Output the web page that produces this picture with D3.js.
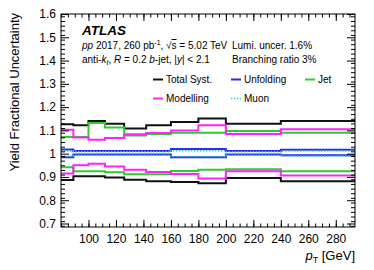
<!DOCTYPE html>
<html>
  <head>
    <meta charset="UTF-8">
    <title>Yield Fractional Uncertainty</title>
    <script src="https://d3js.org/d3.v7.min.js"></script>
    <style>
      body { margin: 0; background: #fff; }
      svg text { font-family: "Liberation Sans", Arial, sans-serif; fill: #000; }
    </style>
  </head>
  <body>
    <svg id="chart" width="374" height="270"></svg>
    <script>
      // bin edges in pT [GeV]
      const binEdges = [80, 89, 100, 112, 126, 142, 160, 180, 200, 240, 294];

      const totalUp = [1.126, 1.122, 1.140, 1.129, 1.108, 1.122, 1.136, 1.151, 1.129, 1.140];
      const totalDown = [0.887, 0.903, 0.903, 0.898, 0.888, 0.882, 0.878, 0.873, 0.896, 0.882];
      const unfoldUp = [1.018, 1.011, 1.011, 1.011, 1.011, 1.011, 1.020, 1.020, 1.011, 1.017];
      const unfoldDown = [0.985, 0.996, 0.996, 0.996, 0.996, 0.996, 0.985, 0.985, 0.996, 0.993];
      const jetUp = [1.072, 1.072, 1.132, 1.112, 1.078, 1.085, 1.090, 1.090, 1.097, 1.090];
      const jetDown = [0.942, 0.925, 0.925, 0.920, 0.912, 0.912, 0.926, 0.931, 0.933, 0.925];
      const modelUp = [1.103, 1.070, 1.060, 1.067, 1.083, 1.089, 1.100, 1.122, 1.085, 1.105];
      const modelDown = [0.915, 0.950, 0.957, 0.945, 0.931, 0.921, 0.913, 0.893, 0.924, 0.906];
      const muonUp = [1.012, 1.008, 1.008, 1.008, 1.008, 1.008, 1.013, 1.013, 1.008, 1.011];
      const muonDown = [0.989, 0.993, 0.993, 0.993, 0.993, 0.993, 0.988, 0.988, 0.993, 0.990];

      const yMajorTicks = [0.7, 0.8, 0.9, 1.0, 1.1, 1.2, 1.3, 1.4, 1.5, 1.6];
      const xMajorTicks = [100, 120, 140, 160, 180, 200, 220, 240, 260, 280];

      const series = [
        { name: "Total Syst.", color: "#111", up: totalUp, down: totalDown, dash: null },
        { name: "Unfolding", color: "#2b2bf0", up: unfoldUp, down: unfoldDown, dash: null },
        { name: "Jet", color: "#2ecc2e", up: jetUp, down: jetDown, dash: null },
        { name: "Modelling", color: "#ff22ff", up: modelUp, down: modelDown, dash: null },
        { name: "Muon", color: "#33cccc", up: muonUp, down: muonDown, dash: "1.5,1.5" }
      ];

      const frame = { left: 61, right: 355, top: 14, bottom: 227 };

      const svg = d3.select("#chart");

      const x = d3.scaleLinear()
        .domain([binEdges[0], binEdges[binEdges.length - 1]])
        .range([frame.left, frame.right]);

      const y = d3.scaleLinear()
        .domain([0.685, 1.6])
        .range([frame.bottom, frame.top]);

      // step histograms
      const line = d3.line()
        .x(d => x(d[0]))
        .y(d => y(d[1]))
        .curve(d3.curveStepAfter);

      function stepPoints(vals) {
        const pts = vals.map((v, i) => [binEdges[i], v]);
        pts.push([binEdges[binEdges.length - 1], vals[vals.length - 1]]);
        return pts;
      }

      series.forEach(s => {
        [s.up, s.down].forEach(vals => {
          svg.append("path")
            .attr("d", line(stepPoints(vals)))
            .attr("fill", "none")
            .attr("stroke", s.color)
            .attr("stroke-width", s.dash ? 1.5 : 2)
            .attr("stroke-dasharray", s.dash);
        });
      });

      // axes, ROOT style ticks inside the frame
      const fmtY = d => d === 1 ? "1" : d3.format(".1f")(d);
      const yMinor = d3.range(0, 47).map(i => 0.69 + i * 0.02).filter(v => v <= 1.601);
      const xMinor = d3.range(80, 295, 5);

      function addAxis(axis, tx, ty, cls) {
        const g = svg.append("g")
          .attr("class", cls)
          .attr("transform", `translate(${tx},${ty})`)
          .call(axis);
        g.select(".domain").remove();
        g.selectAll("line").attr("stroke", "#000");
        return g;
      }

      const yLeft = addAxis(d3.axisLeft(y).tickValues(yMajorTicks).tickSize(-8).tickPadding(5).tickFormat(fmtY), frame.left, 0, "y-left");
      yLeft.selectAll("text").style("font-size", "12px").style("font-family", "Liberation Sans, Arial, sans-serif");
      addAxis(d3.axisLeft(y).tickValues(yMinor).tickSize(-4).tickFormat(""), frame.left, 0, "y-left-minor");
      addAxis(d3.axisRight(y).tickValues(yMajorTicks).tickSize(-8).tickFormat(""), frame.right, 0, "y-right");
      addAxis(d3.axisRight(y).tickValues(yMinor).tickSize(-4).tickFormat(""), frame.right, 0, "y-right-minor");

      const xBottom = addAxis(d3.axisBottom(x).tickValues(xMajorTicks).tickSize(-7).tickPadding(7), 0, frame.bottom, "x-bottom");
      xBottom.selectAll("text").style("font-size", "12px").style("font-family", "Liberation Sans, Arial, sans-serif");
      addAxis(d3.axisBottom(x).tickValues(xMinor).tickSize(-3.5).tickFormat(""), 0, frame.bottom, "x-bottom-minor");
      addAxis(d3.axisTop(x).tickValues(xMajorTicks).tickSize(-7).tickFormat(""), 0, frame.top, "x-top");
      addAxis(d3.axisTop(x).tickValues(xMinor).tickSize(-3.5).tickFormat(""), 0, frame.top, "x-top-minor");

      svg.append("rect")
        .attr("x", frame.left)
        .attr("y", frame.top)
        .attr("width", frame.right - frame.left)
        .attr("height", frame.bottom - frame.top)
        .attr("fill", "none")
        .attr("stroke", "#000")
        .attr("stroke-width", 1);

      // axis titles
      svg.append("text")
        .attr("transform", `translate(19,${frame.top - 1}) rotate(-90)`)
        .attr("text-anchor", "end")
        .style("font-size", "13px")
        .text("Yield Fractional Uncertainty");

      const xt = svg.append("text")
        .attr("x", frame.right)
        .attr("y", 260)
        .attr("text-anchor", "end")
        .style("font-size", "13px");
      xt.append("tspan").style("font-style", "italic").text("p");
      xt.append("tspan").attr("dy", 3).style("font-size", "9px").text("T");
      xt.append("tspan").attr("dy", -3).text(" [GeV]");

      // labels
      svg.append("text")
        .attr("x", 82).attr("y", 35)
        .style("font-size", "13.5px")
        .style("font-weight", "bold")
        .style("font-style", "italic")
        .text("ATLAS");

      const l1 = svg.append("text").attr("x", 82).attr("y", 49).style("font-size", "10px");
      l1.append("tspan").style("font-style", "italic").text("pp");
      l1.append("tspan").text(" 2017, 260 pb");
      l1.append("tspan").attr("dy", -4).style("font-size", "7px").text("-1");
      l1.append("tspan").attr("dy", 4).text(", \u221A");
      l1.append("tspan").style("text-decoration", "overline").text("s");
      l1.append("tspan").text(" = 5.02 TeV");

      const l2 = svg.append("text").attr("x", 82).attr("y", 63).style("font-size", "10px");
      l2.append("tspan").text("anti-");
      l2.append("tspan").style("font-style", "italic").text("k");
      l2.append("tspan").attr("dy", 2).style("font-size", "7px").style("font-style", "italic").text("t");
      l2.append("tspan").attr("dy", -2).text(", ");
      l2.append("tspan").style("font-style", "italic").text("R");
      l2.append("tspan").text(" = 0.2 ");
      l2.append("tspan").style("font-style", "italic").text("b");
      l2.append("tspan").text("-jet, |");
      l2.append("tspan").style("font-style", "italic").text("y");
      l2.append("tspan").text("| < 2.1");

      svg.append("text").attr("x", 232).attr("y", 49).style("font-size", "10px").text("Lumi. uncer. 1.6%");
      svg.append("text").attr("x", 232).attr("y", 63).style("font-size", "10px").text("Branching ratio 3%");

      // legend
      const legendPos = [
        { x: 153, y: 79.5 }, { x: 231, y: 79.5 }, { x: 305, y: 79.5 },
        { x: 153, y: 98.5 }, { x: 231, y: 98.5 }
      ];
      series.forEach((s, i) => {
        const p = legendPos[i];
        svg.append("line")
          .attr("x1", p.x).attr("x2", p.x + 10)
          .attr("y1", p.y).attr("y2", p.y)
          .attr("stroke", s.color)
          .attr("stroke-width", s.dash ? 1.5 : 2)
          .attr("stroke-dasharray", s.dash);
        svg.append("text")
          .attr("x", p.x + 13).attr("y", p.y + 3.6)
          .style("font-size", "10px")
          .text(s.name);
      });
    </script>
  </body>
</html>
